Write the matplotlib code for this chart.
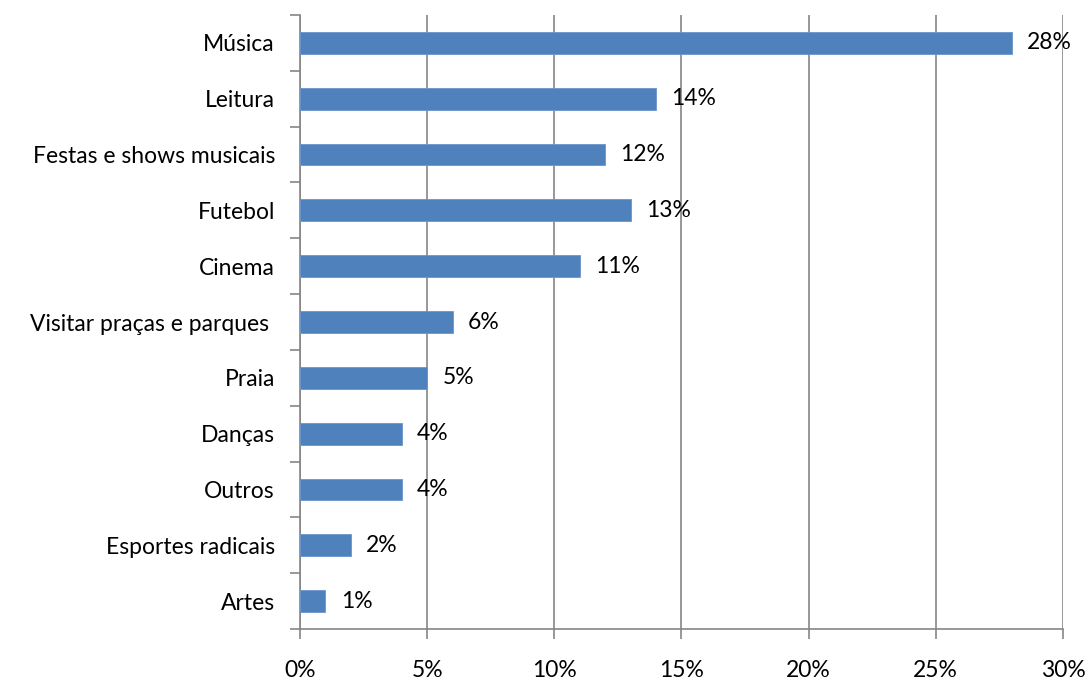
import matplotlib.pyplot as plt
from matplotlib.ticker import MultipleLocator, FuncFormatter

# Dados
categorias = ["Música", "Leitura", "Festas e shows musicais", "Futebol", "Cinema",
              "Visitar praças e parques ", "Praia", "Danças", "Outros",
              "Esportes radicais", "Artes"]
valores = [28, 14, 12, 13, 11, 6, 5, 4, 4, 2, 1]

plt.rcParams['font.family'] = ['Lato', 'DejaVu Sans']

fig = plt.figure(figsize=(10.88, 6.82), dpi=100)
ax = fig.add_axes([0.2757, 0.0777, 0.7013, 0.9003])

n = len(categorias)
posicoes = [n - 1 - i for i in range(n)]

ax.barh(posicoes, valores, height=0.39, color='#4F81BD', edgecolor='#6A95CB',
        linewidth=0.6, zorder=3)

for p, v in zip(posicoes, valores):
    ax.text(v + 0.6, p, f"{v}%", va='center', ha='left', fontsize=16.5, zorder=4)

ax.set_xlim(0, 30)
ax.set_ylim(-0.5, n - 0.5)
ax.xaxis.set_major_locator(MultipleLocator(5))
ax.xaxis.set_major_formatter(FuncFormatter(lambda x, _: f"{x:.0f}%"))
ax.grid(axis='x', color='#868686', linewidth=1.2, zorder=0)

# Rótulos das categorias centralizados, ticks nas divisões
ax.set_yticks(posicoes)
ax.set_yticklabels(categorias)
ax.set_yticks([i - 0.5 for i in range(n + 1)], minor=True)
ax.tick_params(axis='y', which='major', length=0, pad=18, labelsize=16.5)
ax.tick_params(axis='y', which='minor', length=7, width=1.2, color='#868686')
ax.tick_params(axis='x', which='major', length=7, width=1.2, color='#868686',
               pad=15, labelsize=16.5)

for s in ['top', 'right']:
    ax.spines[s].set_visible(False)
for s in ['left', 'bottom']:
    ax.spines[s].set_color('#868686')
    ax.spines[s].set_linewidth(1.2)

plt.savefig("out.png", dpi=100)
